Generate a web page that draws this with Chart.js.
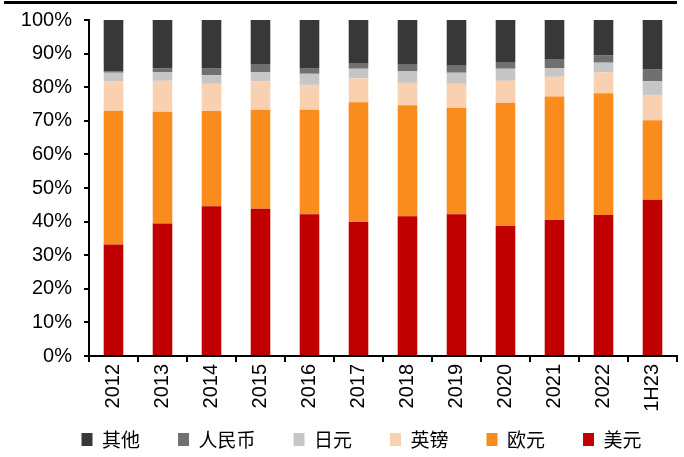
<!DOCTYPE html>
<html>
<head>
<meta charset="utf-8">
<script src="https://cdn.jsdelivr.net/npm/chart.js@4/dist/chart.umd.min.js"></script>
<style>
  html, body { margin: 0; padding: 0; background: #fff; }
  #wrap { position: relative; width: 684px; height: 457px; }
  #topline { position: absolute; left: 4px; top: 1px; width: 673px; height: 3px; background: #000; }
  canvas { position: absolute; left: 0; top: 0; }
</style>
</head>
<body>
<div id="wrap">
  <canvas id="c" width="684" height="457"></canvas>
  <div id="topline"></div>
</div>
<script>
const categories = ['2012','2013','2014','2015','2016','2017','2018','2019','2020','2021','2022','1H23'];
const usd   = [33.2, 39.4, 44.6, 43.8, 42.2, 39.9, 41.6, 42.2, 38.7, 40.5, 42.0, 46.5];
const eur   = [39.8, 33.3, 28.3, 29.5, 31.1, 35.6, 33.0, 31.7, 36.7, 36.7, 36.2, 23.7];
const gbp   = [8.8, 9.2, 8.1, 8.5, 7.4, 7.1, 6.7, 7.1, 6.5, 5.9, 6.2, 7.5];
const jpy   = [2.5, 2.5, 2.6, 2.7, 3.3, 2.9, 3.4, 3.3, 3.6, 2.6, 2.9, 4.1];
const rmb   = [0.5, 1.2, 2.1, 2.4, 1.7, 1.7, 2.2, 2.1, 2.0, 2.7, 2.1, 3.6];
const other = [15.2, 14.4, 14.3, 13.1, 14.3, 12.8, 13.1, 13.6, 12.5, 11.6, 10.6, 14.6];
const seriesNames = ['美元', '欧元', '英镑', '日元', '人民币', '其他'];
const yTicks = [0, 10, 20, 30, 40, 50, 60, 70, 80, 90, 100];

const colors = ['#C00000', '#FA8C1E', '#F9D1B1', '#C6C6C6', '#707070', '#383838'];
const seriesData = [usd, eur, gbp, jpy, rmb, other];

const shiftLegend = {
  id: 'shiftLegend',
  afterLayout(chart) {
    const lg = chart.legend;
    if (lg) { lg.left += 23; lg.right += 23; lg.top += 2; lg.bottom += 2; }
  }
};

new Chart(document.getElementById('c'), {
  type: 'bar',
  data: {
    labels: categories,
    datasets: seriesNames.map((n, i) => ({
      label: n,
      data: seriesData[i],
      backgroundColor: colors[i],
      borderWidth: 0,
      barPercentage: 0.4,
      categoryPercentage: 1.0
    }))
  },
  options: {
    responsive: false,
    animation: false,
    layout: { padding: { left: 0, right: 7, top: 20, bottom: 0 } },
    plugins: {
      legend: {
        position: 'bottom',
        reverse: true,
        labels: {
          boxWidth: 11,
          boxHeight: 13,
          padding: 38,
          color: '#000',
          font: { family: '"Noto Sans CJK SC", sans-serif', size: 19 }
        }
      },
      tooltip: { enabled: false }
    },
    scales: {
      x: {
        stacked: true,
        grid: { display: true, offset: true, drawOnChartArea: false, drawTicks: true, tickLength: 6, color: '#000', lineWidth: 2 },
        border: { display: true, color: '#000', width: 2 },
        ticks: {
          minRotation: 90, maxRotation: 90, autoSkip: false, padding: 2,
          color: '#000',
          font: { family: '"Liberation Sans", Arial, sans-serif', size: 20 }
        },
        afterFit(s) { s.height = 34; s._computeLabelArea = () => undefined; }
      },
      y: {
        stacked: true,
        min: 0, max: 100,
        afterBuildTicks(s) { s.ticks = yTicks.map(v => ({ value: v })); },
        grid: { display: true, drawOnChartArea: false, drawTicks: true, tickLength: 5, color: '#000', lineWidth: 2 },
        border: { display: true, color: '#000', width: 2 },
        ticks: {
          padding: 12,
          color: '#000',
          font: { family: '"Liberation Sans", Arial, sans-serif', size: 20 },
          callback: v => v + '%'
        },
        afterFit(s) { s.width = 89; s.paddingTop = 0; s.paddingBottom = 0; }
      }
    }
  },
  plugins: [shiftLegend]
});
</script>
</body>
</html>
